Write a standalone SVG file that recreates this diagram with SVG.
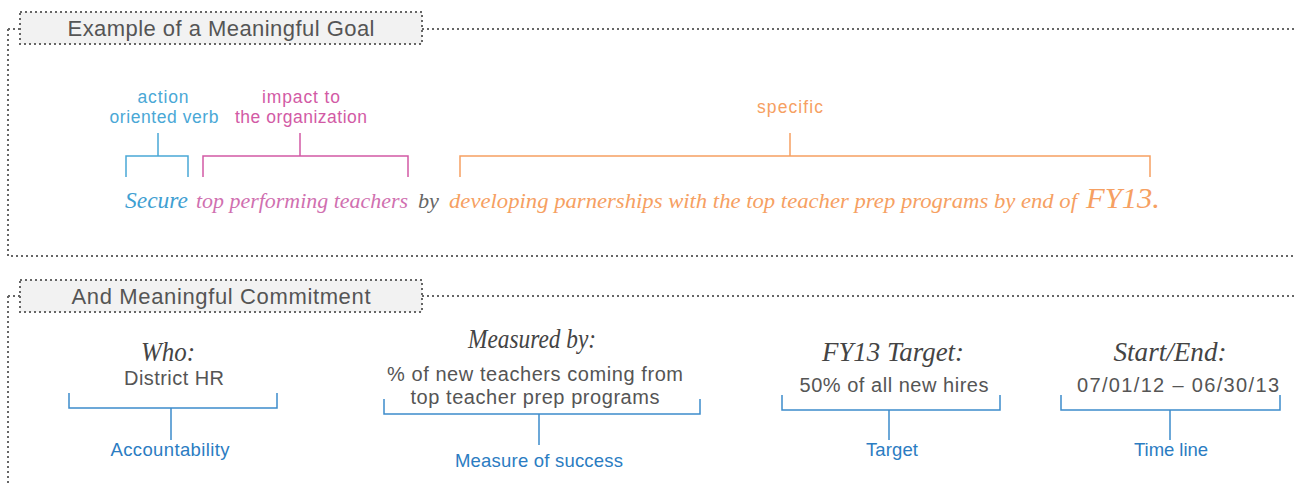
<svg xmlns="http://www.w3.org/2000/svg" width="1294" height="484" viewBox="0 0 1294 484">
<style>
.dot{fill:none;stroke:#666;stroke-width:2;stroke-dasharray:2 3}
.hdrbox{fill:#f2f2f2;stroke:#666;stroke-width:2;stroke-dasharray:2 3}
.hdr{font-family:"Liberation Sans",Arial,sans-serif;font-size:22px;fill:#555;text-anchor:middle}
.lbl{font-family:"Liberation Sans",Arial,sans-serif;font-size:17.5px;text-anchor:middle}
.body{font-family:"Liberation Sans",Arial,sans-serif;font-size:20px;fill:#555;text-anchor:middle}
.cap{font-family:"Liberation Sans",Arial,sans-serif;font-size:18.5px;fill:#2b7cc2;text-anchor:middle}
.script{font-family:"Liberation Serif","DejaVu Serif",serif;font-style:italic}
.br{fill:none;stroke-width:1.5}
.blue{stroke:#4aa8d6}.pink{stroke:#d25aa5}.orange{stroke:#f6a062}.dblue{stroke:#3d8ccb}
</style>
<g id="section1">
<path class="dot" d="M8 29 H20 M422 29 H1294 M8 29 V256 H1294"/>
<g id="header1"><rect class="hdrbox" x="20" y="12" width="402" height="32"/>
<text class="hdr" x="221" y="36" textLength="307" lengthAdjust="spacing">Example of a Meaningful Goal</text></g>
</g>
<g id="section2">
<path class="dot" d="M8 296 H20 M422 296 H1294 M8 296 V484"/>
<g id="header2"><rect class="hdrbox" x="20" y="280" width="402" height="32"/>
<text class="hdr" x="221" y="304" textLength="299" lengthAdjust="spacing">And Meaningful Commitment</text></g>
</g>
<g id="connectors">
<path class="br blue" d="M126 177 V156 H188 V177 M158 156 V133"/>
<path class="br pink" d="M203 177 V156 H408 V177 M300 156 V133"/>
<path class="br orange" d="M460 177 V156 H1150 V177 M790 156 V133"/>
<path class="br dblue" d="M69 393 V408 H277 V393 M171 408 V440"/>
<path class="br dblue" d="M384 399 V414 H700 V399 M539 414 V445"/>
<path class="br dblue" d="M782 395 V410 H1000 V395 M889 410 V440"/>
<path class="br dblue" d="M1061 395 V410 H1280 V395 M1170 410 V440"/>
</g>
<g id="goal-labels">
<g id="action"><text class="lbl" fill="#4aa8d6" x="163" y="103" textLength="51" lengthAdjust="spacing">action</text><text class="lbl" fill="#4aa8d6" x="164" y="123" textLength="109" lengthAdjust="spacing">oriented verb</text></g>
<g id="impact"><text class="lbl" fill="#d25aa5" x="301" y="103" textLength="78" lengthAdjust="spacing">impact to</text><text class="lbl" fill="#d25aa5" x="301" y="123" textLength="132" lengthAdjust="spacing">the organization</text></g>
<g id="specific"><text class="lbl" fill="#f6a062" x="790" y="113" textLength="66" lengthAdjust="spacing">specific</text></g>
</g>
<g id="goal-sentence">
<text class="script" y="208" font-size="22"><tspan font-size="23" fill="#3fa0d2" x="125" textLength="63" lengthAdjust="spacingAndGlyphs">Secure</tspan><tspan fill="#d070b0" x="196" textLength="212" lengthAdjust="spacingAndGlyphs">top performing teachers</tspan><tspan fill="#666" x="418" textLength="21" lengthAdjust="spacingAndGlyphs">by</tspan><tspan fill="#f6a062" x="449" textLength="628" lengthAdjust="spacingAndGlyphs">developing parnerships with the top teacher prep programs by end of</tspan><tspan font-size="30" fill="#f6a062" x="1086" textLength="74" lengthAdjust="spacingAndGlyphs">FY13.</tspan></text>
</g>
<g id="who">
<text class="script" font-size="28" fill="#444" x="168" y="361" text-anchor="middle" textLength="54" lengthAdjust="spacingAndGlyphs">Who:</text>
<text class="body" x="174" y="385" textLength="100" lengthAdjust="spacing">District HR</text>
<text class="cap" x="170" y="456" textLength="119" lengthAdjust="spacing">Accountability</text>
</g>
<g id="measured">
<text class="script" font-size="28" fill="#444" x="532" y="348" text-anchor="middle" textLength="128" lengthAdjust="spacingAndGlyphs">Measured by:</text>
<text class="body" x="535" y="381" textLength="296" lengthAdjust="spacing">% of new teachers coming from</text>
<text class="body" x="535" y="404" textLength="249" lengthAdjust="spacing">top teacher prep programs</text>
<text class="cap" x="539" y="467" textLength="168" lengthAdjust="spacing">Measure of success</text>
</g>
<g id="target">
<text class="script" font-size="28" fill="#444" x="893" y="361" text-anchor="middle" textLength="142" lengthAdjust="spacingAndGlyphs">FY13 Target:</text>
<text class="body" x="894" y="392" textLength="189" lengthAdjust="spacing">50% of all new hires</text>
<text class="cap" x="892" y="456" textLength="52" lengthAdjust="spacing">Target</text>
</g>
<g id="timeline">
<text class="script" font-size="28" fill="#444" x="1170" y="361" text-anchor="middle" textLength="113" lengthAdjust="spacingAndGlyphs">Start/End:</text>
<text class="body" x="1178" y="392" textLength="202" lengthAdjust="spacing">07/01/12 – 06/30/13</text>
<text class="cap" x="1171" y="456" textLength="74" lengthAdjust="spacing">Time line</text>
</g>
</svg>
